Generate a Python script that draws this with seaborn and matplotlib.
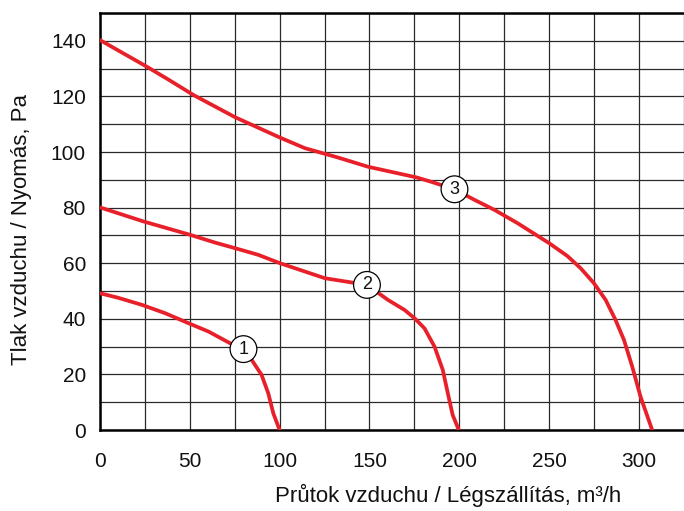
import numpy as np
import pandas as pd
import matplotlib
matplotlib.use("Agg")
import matplotlib.pyplot as plt
import seaborn as sns

# curve data (flow m3/h, pressure Pa)
flow_1 = [0, 10, 23.5, 36.4, 49.4, 60.5, 72.5, 79.9, 84.5, 90, 93.7, 96.5, 100]
pres_1 = [49.2, 47.6, 45, 42, 38.4, 35.4, 31.2, 29.1, 25.2, 19.8, 13.2, 6, 0]

flow_2 = [0, 24.4, 50.3, 64.2, 75.3, 88.2, 100.2, 110.4, 125.2, 148.6, 160.3,
          169.5, 175.1, 180.6, 186.2, 190.8, 193.6, 196.3, 199.7]
pres_2 = [80.1, 75, 70.2, 67.4, 65.4, 63, 60, 57.8, 54.6, 52.2, 46.8,
          43.2, 40.2, 36.6, 30, 21.6, 13.2, 5.4, 0]

flow_3 = [0, 25.3, 38.3, 52.1, 75.3, 100.2, 114, 132.6, 149.2, 176, 184.3,
          197.3, 208.4, 219.5, 232.4, 250, 260.1, 267.5, 274.9, 281.4, 286.9,
          291.6, 296.2, 300.8, 307.3]
pres_3 = [140.3, 131, 126, 120.5, 112.5, 105.2, 101.4, 98, 94.7, 90.9, 89.3,
          86.6, 82.8, 79.2, 74.4, 67.2, 62.6, 58.2, 52.8, 46.8, 39.6,
          32.4, 22.8, 12, 0]

# where the numbered labels sit on each curve
label_names = ["1", "2", "3"]
label_x = [79.9, 148.6, 197.3]
label_y = [29.1, 52.2, 86.6]

df = pd.concat([
    pd.DataFrame({"flow": flow_1, "pressure": pres_1, "curve": "1"}),
    pd.DataFrame({"flow": flow_2, "pressure": pres_2, "curve": "2"}),
    pd.DataFrame({"flow": flow_3, "pressure": pres_3, "curve": "3"}),
])

sns.set_style("white")
plt.rcParams["font.family"] = ["Liberation Sans", "DejaVu Sans"]
plt.rcParams["text.color"] = "#111111"
plt.rcParams["axes.labelcolor"] = "#111111"

fig = plt.figure(figsize=(6.84, 5.11), dpi=100)
ax = fig.add_axes([0.146, 0.1585, 0.854, 0.816])

sns.lineplot(data=df, x="flow", y="pressure", hue="curve", units="curve",
             estimator=None, sort=False, palette=["#e8202a"] * 3,
             linewidth=2.7, legend=False, ax=ax, zorder=3)

for name, lx, ly in zip(label_names, label_x, label_y):
    ax.text(lx, ly, name, ha="center", va="center", fontsize=13, zorder=5,
            bbox=dict(boxstyle="circle,pad=0.27", fc="white", ec="black", lw=0.9))

ax.set_xlim(0, 323.7)
ax.set_ylim(0, 150)
ax.set_xticks(np.arange(0, 301, 50))
ax.set_xticks(np.arange(0, 326, 25), minor=True)
ax.set_yticks(np.arange(0, 141, 20))
ax.set_yticks(np.arange(0, 151, 10), minor=True)
ax.grid(True, which="both", color="#2a2a2a", linewidth=0.9)
ax.tick_params(axis="both", which="major", direction="out", length=6,
               width=1.2, labelsize=15, color="black", labelcolor="#111111", pad=4)
ax.tick_params(axis="both", which="minor", length=0)
ax.tick_params(axis="x", pad=10)

for side in ["left", "bottom", "top"]:
    ax.spines[side].set_visible(True)
    ax.spines[side].set_linewidth(1.8)
    ax.spines[side].set_color("black")
ax.spines["right"].set_visible(False)

ax.set_xlabel("Průtok vzduchu / Légszállítás, m³/h", fontsize=16, va="center")
ax.set_ylabel("Tlak vzduchu / Nyomás, Pa", fontsize=16, va="center")
ax.xaxis.set_label_coords(0.596, -0.157)
ax.yaxis.set_label_coords(-0.134, 0.48)

fig.savefig("out.png", dpi=100)
